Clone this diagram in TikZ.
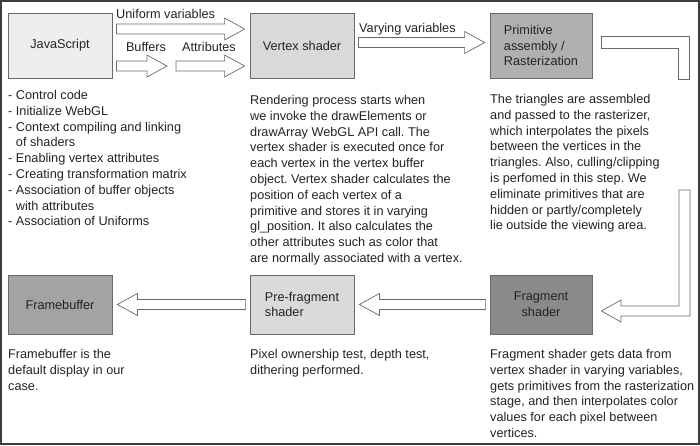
\documentclass[tikz,border=0pt]{standalone}
\usepackage{fontspec}
\setmainfont{Liberation Sans}
\usetikzlibrary{positioning,calc}
\definecolor{framegray}{RGB}{60,60,60}
\definecolor{linegray}{RGB}{105,105,105}
\definecolor{textgray}{RGB}{35,35,35}
\definecolor{jsfill}{RGB}{238,238,238}
\definecolor{vsfill}{RGB}{217,217,217}
\definecolor{pafill}{RGB}{176,176,176}
\definecolor{fsfill}{RGB}{138,138,138}
\definecolor{pffill}{RGB}{218,218,218}
\definecolor{fbfill}{RGB}{163,163,163}
\frenchspacing

% horizontal block arrow from #1 to #2 (gaps kept to the nodes)
\newcommand\blockarrow[2]{%
  \draw[blockarr] let \p1=#1, \p2=#2, \n1={sign(\x2-\x1)} in
    (\x1+\n1*4pt,\y1+5pt) -- (\x2-\n1*25pt,\y1+5pt) -- (\x2-\n1*25pt,\y1+11pt)
    -- (\x2-\n1*5pt,\y1) -- (\x2-\n1*25pt,\y1-11pt) -- (\x2-\n1*25pt,\y1-5pt)
    -- (\x1+\n1*4pt,\y1-5pt) -- cycle;}

\begin{document}
\begin{tikzpicture}[
    x=1pt, y=-1pt,
    every node/.style={text=textgray, font=\fontsize{12.7}{15.8}\selectfont},
    stage/.style={
        draw=linegray,
        line width=0.8pt,
        minimum width=104pt,
        inner sep=0pt
    },
    blockarr/.style={
        draw=linegray,
        fill=white,
        line width=0.7pt,
        line join=miter
    },
    desc/.style={
        anchor=north west,
        align=left,
        inner sep=0pt
    }
]

\useasboundingbox (0,0) rectangle (700,446);
\draw[framegray, line width=1.2pt] (1,1) rectangle (699,444);

% ============================================================
% TOP ROW
% ============================================================

\node[stage, fill=jsfill, minimum height=65pt] (js) at (60,45.5)
{JavaScript};

\node[stage, fill=vsfill, minimum height=65pt] (vs) at (302,45.5)
{Vertex shader};

\node[stage, fill=pafill, minimum height=65pt, minimum width=102pt, align=left] (pa) at (541,45.5)
{Primitive\\assembly /\\Rasterization};

\coordinate (split) at (172,66);

\blockarrow{([yshift=16.5pt]js.east)}{([yshift=16.5pt]vs.west)}
\blockarrow{([yshift=-20.5pt]js.east)}{(split)}
\blockarrow{(split)}{([yshift=-20.5pt]vs.west)}
\blockarrow{([yshift=3pt]vs.east)}{([yshift=3pt]pa.west)}

\node[anchor=west, inner sep=0pt] (uniform) at (116,14) {Uniform variables};
\node (buffers) at (146,47) {Buffers};
\node (attribs) at (209,47) {Attributes};
\node[anchor=west, inner sep=0pt] (varying) at (359,29) {Varying variables};

% ============================================================
% RIGHT SIDE BEND
% ============================================================

\draw[blockarr] ([xshift=9pt]pa.east |- 0,36) -- (689,36) -- (689,79)
    -- (678,79) -- (678,48) -- ([xshift=9pt]pa.east |- 0,48) -- cycle;

\node[stage, fill=fsfill, minimum height=59pt, minimum width=102pt, align=center] (fs) at (541,304.5)
{Fragment\\shader};

\draw[blockarr] (679,190) -- (690,190) -- (690,316) -- (621,316) -- (621,322)
    -- ([xshift=9pt]fs.east |- 0,311) -- (621,300) -- (621,306) -- (679,306) -- cycle;

% ============================================================
% BOTTOM ROW
% ============================================================

\node[stage, fill=pffill, minimum height=59pt, align=left] (pf) at (302,304.5)
{Pre-fragment\hspace{14pt}\\shader};

\node[stage, fill=fbfill, minimum height=59pt] (fb) at (60,304.5)
{Framebuffer};

\blockarrow{(fs.west)}{(pf.east)}
\blockarrow{(pf.west)}{(fb.east)}

% ============================================================
% DESCRIPTIONS
% ============================================================

\node[desc] (jsdesc) at (8,90)
{- Control code\\
- Initialize WebGL\\
- Context compiling and linking\\
\hphantom{- }of shaders\\
- Enabling vertex attributes\\
- Creating transformation matrix\\
- Association of buffer objects\\
\hphantom{- }with attributes\\
- Association of Uniforms};

\node[desc] (vsdesc) at (250,95)
{Rendering process starts when\\
we invoke the drawElements or\\
drawArray WebGL API call. The\\
vertex shader is executed once for\\
each vertex in the vertex buffer\\
object. Vertex shader calculates the\\
position of each vertex of a\\
primitive and stores it in varying\\
gl\_position. It also calculates the\\
other attributes such as color that\\
are normally associated with a vertex.};

\node[desc] (padesc) at (490,94)
{The triangles are assembled\\
and passed to the rasterizer,\\
which interpolates the pixels\\
between the vertices in the\\
triangles. Also, culling/clipping\\
is perfomed in this step. We\\
eliminate primitives that are\\
hidden or partly/completely\\
lie outside the viewing area.};

\node[desc] (fbdesc) at (8,349)
{Framebuffer is the\\
default display in our\\
case.};

\node[desc] (pfdesc) at (250,349)
{Pixel ownership test, depth test,\\
dithering performed.};

\node[desc] (fsdesc) at (490,349)
{Fragment shader gets data from\\
vertex shader in varying variables,\\
gets primitives from the rasterization\\
stage, and then interpolates color\\
values for each pixel between\\
vertices.};

\end{tikzpicture}
\end{document}
